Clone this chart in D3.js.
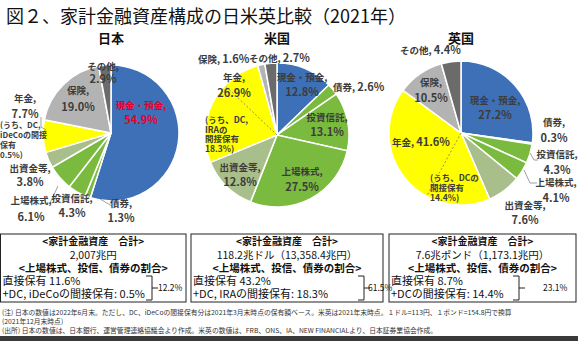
<!DOCTYPE html>
<html>
<head>
<meta charset="utf-8">
<script src="https://cdn.jsdelivr.net/npm/d3@7"></script>
<style>
  body { margin: 0; background: #fff; }
  text { font-family: "Noto Sans CJK JP", "Noto Sans", sans-serif; }
</style>
</head>
<body>
<div id="chart"></div>
<script>
// Data
const categories = ["現金・預金", "債券", "投資信託", "上場株式", "出資金等", "年金", "保険", "その他"];
const countries = ["日本", "米国", "英国"];
const japanValues = [54.9, 1.3, 4.3, 6.1, 3.8, 7.7, 19.0, 2.9];
const usValues = [12.8, 2.6, 13.1, 27.5, 12.8, 26.9, 1.6, 2.7];
const ukValues = [27.2, 0.3, 4.3, 4.1, 7.6, 41.6, 10.5, 4.4];
const dcShares = [0.5, 18.3, 14.4];
const dcNotes = [
    ["(うち、DC,", "iDeCoの間接", "保有", "0.5%)"],
    ["(うち、DC,", "IRAの", "間接保有", "18.3%)"],
    ["(うち、DCの", "間接保有", "14.4%)"]
];
const totalTitle = "<家計金融資産　合計>";
const totals = ["2,007兆円", "118.2兆ドル（13,358.4兆円）", "7.6兆ポンド（1,173.1兆円）"];
const shareTitle = "<上場株式、投信、債券の割合>";
const directShares = [11.6, 43.2, 8.7];
const indirectLabels = ["+DC, iDeCoの間接保有", "+DC, IRAの間接保有", "+DCの間接保有"];
const indirectShares = [0.5, 18.3, 14.4];
const combinedShares = [12.2, 61.5, 23.1];
const notes = [
    "(注) 日本の数値は2022年6月末。ただし、DC、iDeCoの間接保有分は2021年3月末時点の保有額ベース。米英は2021年末時点。１ドル=113円、１ポンド=154.8円で換算",
    "(2021年12月末時点)",
    "(出所) 日本の数値は、日本銀行、運営管理連絡協議会より作成。米英の数値は、FRB、ONS、IA、NEW FINANCIALより、日本証券業協会作成。"
];

const allValues = [japanValues, usValues, ukValues];

const width = 578, height = 341;
const colors = d3.scaleOrdinal()
    .domain(categories)
    .range(["#3d70b6", "#7aba3e", "#7aba3e", "#7aba3e", "#a9bf8b", "#ffff00", "#b3b3b3", "#6b6b6b"]);

const svg = d3.select("#chart")
    .append("svg")
    .attr("width", width)
    .attr("height", height);

svg.append("rect").attr("width", width).attr("height", height).attr("fill", "#fff");

// Title
svg.append("text")
    .attr("x", 6)
    .attr("y", 23)
    .attr("font-size", 18)
    .attr("fill", "#111")
    .text("図２、家計金融資産構成の日米英比較（2021年）");

// Pie layout per country
const pieLayout = [
    { cx: 111, cy: 133, r: 68 },
    { cx: 277, cy: 135, r: 72 },
    { cx: 461, cy: 133, r: 72 }
];

// label placement: [category index, x, y1, y2 (null = one line), anchor]
const labelLayout = [
    [[0, 141, 109, 124, "middle"], [1, 121, 207, 222, "middle"], [2, 72, 202, 217, "middle"],
     [3, 31, 204, 221, "middle"], [4, 30, 172, 186, "middle"], [5, 25, 102, 118, "middle"],
     [6, 78, 94, 111, "middle"], [7, 103, 70, 83, "middle"]],
    [[0, 302, 81, 96, "middle"], [1, 333, 91, null, "start"], [2, 327, 121, 136, "middle"],
     [3, 302, 175, 191, "middle"], [4, 240, 171, 186, "middle"], [5, 234, 81, 97, "middle"],
     [6, 198, 63, null, "start"], [7, 249, 62, null, "start"]],
    [[0, 495, 104, 119, "middle"], [1, 554, 126, 142, "middle"], [2, 557, 158, 174, "middle"],
     [3, 556, 186, 202, "middle"], [4, 525, 209, 224, "middle"], [5, 392, 146, null, "start"],
     [6, 431, 86, 102, "middle"], [7, 400, 54, null, "start"]]
];
const dcNoteLayout = [
    { x: 0, y: 128, step: 10, size: 8 },
    { x: 205, y: 123, step: 9.7, size: 8.5 },
    { x: 430, y: 181, step: 10, size: 8.5 }
];
const leaderLines = [
    [[[41, 117], [41, 127], [46, 130]], [[50, 203], [58, 186]], [[100, 199], [112, 206]]],
    [],
    [[[530, 153], [534, 160], [538, 160]], [[524, 170], [530, 183], [537, 183]]]
];

const pie = d3.pie().sort(null).value(d => d);

allValues.forEach((values, ci) => {
    const { cx, cy, r } = pieLayout[ci];
    const g = svg.append("g").attr("transform", `translate(${cx},${cy})`);
    const arcs = pie(values);
    const arc = d3.arc().innerRadius(0).outerRadius(r);

    g.selectAll("path")
        .data(arcs)
        .enter()
        .append("path")
        .attr("d", arc)
        .attr("fill", (d, i) => colors(categories[i]))
        .attr("stroke", "#fff")
        .attr("stroke-width", 1.5);

    // dashed split inside pension slice for DC share
    const total = d3.sum(values);
    const pensionStart = d3.sum(values.slice(0, 5));
    const angle = (pensionStart + dcShares[ci]) / total * 2 * Math.PI;
    if (ci > 0) {
        g.append("line")
            .attr("x1", 0).attr("y1", 0)
            .attr("x2", Math.sin(angle) * r)
            .attr("y2", -Math.cos(angle) * r)
            .attr("stroke", "#777")
            .attr("stroke-width", 0.8)
            .attr("stroke-dasharray", "2,2");
    }

    // country heading
    svg.append("text")
        .attr("x", cx)
        .attr("y", 43)
        .attr("text-anchor", "middle")
        .attr("font-size", 13)
        .attr("font-weight", 700)
        .attr("fill", "#111")
        .text(countries[ci]);

    // leader lines
    leaderLines[ci].forEach(pts => {
        svg.append("path")
            .attr("d", d3.line()(pts))
            .attr("fill", "none")
            .attr("stroke", "#888")
            .attr("stroke-width", 0.8);
    });

    // slice labels
    labelLayout[ci].forEach(([i, x, y1, y2, anchor]) => {
        const fill = (ci === 0 && i === 0) ? "#e5002b" : "#3c3c3c";
        const t = svg.append("text")
            .attr("x", x)
            .attr("y", y1)
            .attr("text-anchor", anchor)
            .attr("font-weight", 700)
            .attr("fill", fill);
        if (y2 === null) {
            t.append("tspan").attr("font-size", 9.5).text(`${categories[i]}, `);
            t.append("tspan").attr("font-size", 11).text(`${values[i].toFixed(1)}%`);
        } else {
            t.append("tspan").attr("font-size", 9.5).text(`${categories[i]},`);
            t.append("tspan").attr("x", x).attr("y", y2).attr("font-size", 11)
                .text(`${values[i].toFixed(1)}%`);
        }
    });

    // DC note
    const dn = dcNoteLayout[ci];
    const nt = svg.append("text")
        .attr("font-size", dn.size)
        .attr("font-weight", 700)
        .attr("fill", "#3c3c3c");
    dcNotes[ci].forEach((line, k) => {
        nt.append("tspan").attr("x", dn.x).attr("y", dn.y + k * dn.step).text(line);
    });
});

// Summary boxes
const boxLayout = [
    { x0: 0.5, x1: 186, bx: 152, px: 158 },
    { x0: 191, x1: 383, bx: 364, px: 368 },
    { x0: 389, x1: 576, bx: 519, px: 543 }
];
const boxTop = 234, boxBottom = 302;

boxLayout.forEach((b, ci) => {
    const mid = (b.x0 + b.x1) / 2;
    svg.append("rect")
        .attr("x", b.x0)
        .attr("y", boxTop)
        .attr("width", b.x1 - b.x0)
        .attr("height", boxBottom - boxTop)
        .attr("fill", "none")
        .attr("stroke", "#222")
        .attr("stroke-width", 1);

    svg.append("text").attr("x", mid).attr("y", 245)
        .attr("text-anchor", "middle").attr("font-size", 10).attr("font-weight", 700)
        .attr("fill", "#111").text(totalTitle);
    svg.append("text").attr("x", mid).attr("y", 259)
        .attr("text-anchor", "middle").attr("font-size", 10.5)
        .attr("fill", "#111").text(totals[ci]);
    svg.append("text").attr("x", mid).attr("y", 271.5)
        .attr("text-anchor", "middle").attr("font-size", 10.5).attr("font-weight", 700)
        .attr("fill", "#111").text(shareTitle);
    svg.append("text").attr("x", b.x0 + 2).attr("y", 284.5)
        .attr("font-size", 11).attr("fill", "#111")
        .text(`直接保有  ${directShares[ci]}%`);
    svg.append("text").attr("x", b.x0 + 2).attr("y", 298)
        .attr("font-size", 11).attr("fill", "#111")
        .text(`${indirectLabels[ci]}: ${indirectShares[ci]}%`);

    // bracket
    svg.append("path")
        .attr("d", `M${b.bx - 6},276 H${b.bx} V300 H${b.bx - 6} M${b.bx},288 H${b.bx + 6}`)
        .attr("fill", "none")
        .attr("stroke", "#222")
        .attr("stroke-width", 1);
    svg.append("text").attr("x", b.px).attr("y", 291)
        .attr("font-size", 8.5).attr("fill", "#111")
        .text(`${combinedShares[ci]}%`);
});

// Notes
notes.forEach((n, k) => {
    svg.append("text")
        .attr("x", 2)
        .attr("y", [315, 324, 333][k])
        .attr("font-size", 6.8)
        .attr("fill", "#333")
        .text(n);
});

// bottom band
svg.append("rect")
    .attr("x", 0).attr("y", 336)
    .attr("width", width).attr("height", 5)
    .attr("fill", "#3a3a3a");
</script>
</body>
</html>
